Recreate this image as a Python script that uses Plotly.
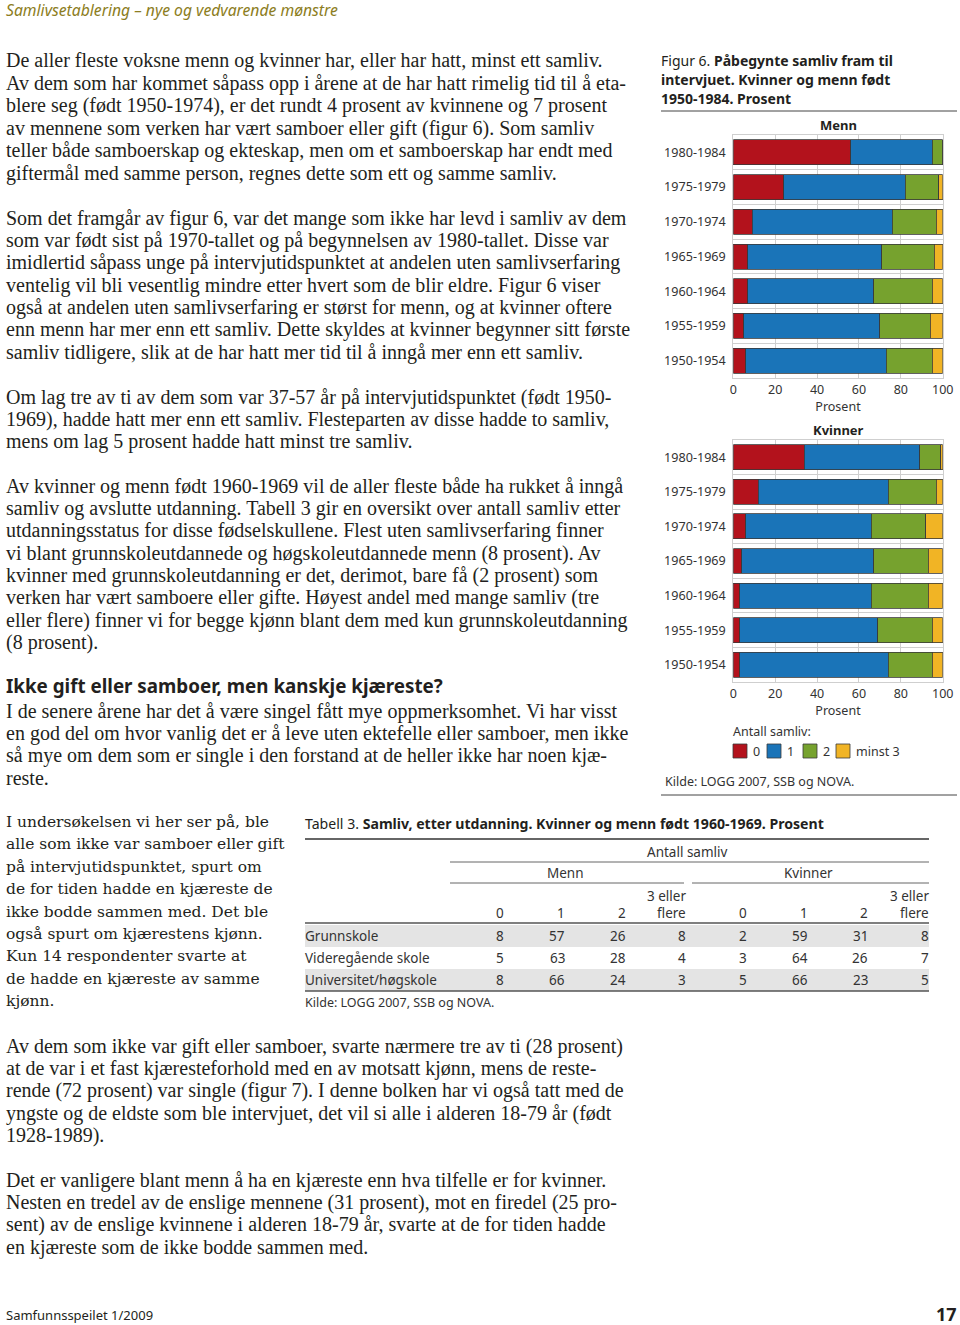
import plotly.graph_objects as go

W, H = 960, 1325
def X(px): return px / W
def Y(py): return 1 - py / H

# ---------------- data ----------------
cohorts = ["1980-1984", "1975-1979", "1970-1974", "1965-1969", "1960-1964", "1955-1959", "1950-1954"]
series_names = ["0", "1", "2", "minst 3"]
menn_0 = [56, 24, 9, 7, 7, 5, 6]
menn_1 = [39, 58, 67, 64, 60, 65, 67]
menn_2 = [5, 16, 21, 25, 28, 24, 22]
menn_3 = [0, 2, 3, 4, 5, 6, 5]
kvinner_0 = [34, 12, 6, 4, 3, 3, 3]
kvinner_1 = [55, 62, 60, 63, 63, 66, 71]
kvinner_2 = [10, 23, 26, 26, 27, 26, 21]
kvinner_3 = [1, 3, 8, 7, 7, 5, 5]
x_ticks = [0, 20, 40, 60, 80, 100]

table_rows = ["Grunnskole", "Videregående skole", "Universitet/høgskole"]
table_cols = ["0", "1", "2", "3 eller<br>flere"]
menn_tab = [[8, 57, 26, 8], [5, 63, 28, 4], [8, 66, 24, 3]]
kvinner_tab = [[2, 59, 31, 8], [3, 64, 26, 7], [5, 66, 23, 5]]

colors = ["#B3121C", "#1A74B8", "#76A22E", "#F1B425"]

SERIF = "Liberation Serif, Times New Roman, serif"
SIDE = "DejaVu Serif, serif"
SANS = "Noto Sans, Open Sans, sans-serif"
INK = "#231f20"

fig = go.Figure()
for vals, name, col in zip([menn_0, menn_1, menn_2, menn_3], series_names, colors):
    fig.add_trace(go.Bar(y=cohorts, x=vals, name=name, orientation="h",
                         marker=dict(color=col, line=dict(color="#3a3a3a", width=0.8)),
                         xaxis="x", yaxis="y", showlegend=False, hoverinfo="skip"))
for vals, name, col in zip([kvinner_0, kvinner_1, kvinner_2, kvinner_3], series_names, colors):
    fig.add_trace(go.Bar(y=cohorts, x=vals, name=name, orientation="h",
                         marker=dict(color=col, line=dict(color="#3a3a3a", width=0.8)),
                         xaxis="x2", yaxis="y2", showlegend=False, hoverinfo="skip"))

xcommon = dict(range=[0, 100], tickvals=x_ticks, showgrid=True, gridcolor="#cfcfcf", gridwidth=1,
               zeroline=False, showline=True, linecolor="#cfcfcf", mirror=True, ticks="",
               tickfont=dict(family=SANS, size=12.5, color="#333"), automargin=False,
               title=dict(text="Prosent", font=dict(family=SANS, size=12.5, color="#333"), standoff=2),
               fixedrange=True)
ycommon = dict(type="category", categoryarray=cohorts, autorange="reversed", showgrid=True,
               tickson="boundaries", gridcolor="#cfcfcf", ticks="", showline=True, linecolor="#cfcfcf",
               mirror=True, tickfont=dict(family=SANS, size=12.6, color="#333"), ticklabelstandoff=4,
               automargin=False, fixedrange=True)

fig.update_layout(
    width=W, height=H, autosize=False, margin=dict(l=0, r=0, t=0, b=0, pad=0, autoexpand=False),
    paper_bgcolor="white", plot_bgcolor="white", barmode="stack", bargap=0.28,
    showlegend=False, hovermode=False,
    xaxis=dict(domain=[X(733.3), X(942.7)], anchor="y", **xcommon),
    yaxis=dict(domain=[Y(378), Y(135)], anchor="x", **ycommon),
    xaxis2=dict(domain=[X(733.3), X(942.7)], anchor="y2", **xcommon),
    yaxis2=dict(domain=[Y(682), Y(440)], anchor="x2", **ycommon),
)

ann = []
def txt(x, y, t, size=20, family=SERIF, color=INK, anchor="left"):
    ann.append(dict(x=X(x), y=Y(y), xref="paper", yref="paper", text=t, showarrow=False,
                    xanchor=anchor, yanchor="middle", font=dict(family=family, size=size, color=color)))

def para(lines, y0, x=4, step=22.4, size=20, family=SERIF):
    for i, l in enumerate(lines):
        txt(x, y0 + i * step, l, size=size, family=family)

# header / footer
txt(4, 10, "<i>Samlivsetablering – nye og vedvarende mønstre</i>", size=15.7, family=SANS, color="#8c7d22")
txt(4, 1315, "Samfunnsspeilet 1/2009", size=13, family=SANS)
txt(959, 1314, "<b>17</b>", size=18, family=SANS, anchor="right")

para(["De aller fleste voksne menn og kvinner har, eller har hatt, minst ett samliv.",
      "Av dem som har kommet såpass opp i årene at de har hatt rimelig tid til å eta-",
      "blere seg (født 1950-1974), er det rundt 4 prosent av kvinnene og 7 prosent",
      "av mennene som verken har vært samboer eller gift (figur 6). Som samliv",
      "teller både samboerskap og ekteskap, men om et samboerskap har endt med",
      "giftermål med samme person, regnes dette som ett og samme samliv."], 61)
para(["Som det framgår av figur 6, var det mange som ikke har levd i samliv av dem",
      "som var født sist på 1970-tallet og på begynnelsen av 1980-tallet. Disse var",
      "imidlertid såpass unge på intervjutidspunktet at andelen uten samlivserfaring",
      "ventelig vil bli vesentlig mindre etter hvert som de blir eldre. Figur 6 viser",
      "også at andelen uten samlivserfaring er størst for menn, og at kvinner oftere",
      "enn menn har mer enn ett samliv. Dette skyldes at kvinner begynner sitt første",
      "samliv tidligere, slik at de har hatt mer tid til å inngå mer enn ett samliv."], 218)
para(["Om lag tre av ti av dem som var 37-57 år på intervjutidspunktet (født 1950-",
      "1969), hadde hatt mer enn ett samliv. Flesteparten av disse hadde to samliv,",
      "mens om lag 5 prosent hadde hatt minst tre samliv."], 397)
para(["Av kvinner og menn født 1960-1969 vil de aller fleste både ha rukket å inngå",
      "samliv og avslutte utdanning. Tabell 3 gir en oversikt over antall samliv etter",
      "utdanningsstatus for disse fødselskullene. Flest uten samlivserfaring finner",
      "vi blant grunnskoleutdannede og høgskoleutdannede menn (8 prosent). Av",
      "kvinner med grunnskoleutdanning er det, derimot, bare få (2 prosent) som",
      "verken har vært samboere eller gifte. Høyest andel med mange samliv (tre",
      "eller flere) finner vi for begge kjønn blant dem med kun grunnskoleutdanning",
      "(8 prosent)."], 486)
txt(4, 686, "<b>Ikke gift eller samboer, men kanskje kjæreste?</b>", size=18.8, family=SANS)
para(["I de senere årene har det å være singel fått mye oppmerksomhet. Vi har visst",
      "en god del om hvor vanlig det er å leve uten ektefelle eller samboer, men ikke",
      "så mye om dem som er single i den forstand at de heller ikke har noen kjæ-",
      "reste."], 711)
para(["I undersøkelsen vi her ser på, ble",
      "alle som ikke var samboer eller gift",
      "på intervjutidspunktet, spurt om",
      "de for tiden hadde en kjæreste de",
      "ikke bodde sammen med. Det ble",
      "også spurt om kjærestens kjønn.",
      "Kun 14 respondenter svarte at",
      "de hadde en kjæreste av samme",
      "kjønn."], 822, size=15.5, family=SIDE)
para(["Av dem som ikke var gift eller samboer, svarte nærmere tre av ti (28 prosent)",
      "at de var i et fast kjæresteforhold med en av motsatt kjønn, mens de reste-",
      "rende (72 prosent) var single (figur 7). I denne bolken har vi også tatt med de",
      "yngste og de eldste som ble intervjuet, det vil si alle i alderen 18-79 år (født",
      "1928-1989)."], 1046)
para(["Det er vanligere blant menn å ha en kjæreste enn hva tilfelle er for kvinner.",
      "Nesten en tredel av de enslige mennene (31 prosent), mot en firedel (25 pro-",
      "sent) av de enslige kvinnene i alderen 18-79 år, svarte at de for tiden hadde",
      "en kjæreste som de ikke bodde sammen med."], 1180)

# figure caption & chart texts
txt(659, 61, "Figur 6. <b>Påbegynte samliv fram til</b>", size=14, family=SANS)
txt(659, 79, "<b>intervjuet. Kvinner og menn født</b>", size=14, family=SANS)
txt(659, 98, "<b>1950-1984. Prosent</b>", size=14, family=SANS)
txt(838, 125, "<b>Menn</b>", size=13, family=SANS, anchor="center")
txt(838, 430, "<b>Kvinner</b>", size=13, family=SANS, anchor="center")
txt(731, 731, "Antall samliv:", size=12.5, family=SANS, color="#333")
txt(663, 781, "Kilde: LOGG 2007, SSB og NOVA.", size=12.5, family=SANS, color="#333")

shapes = [
    dict(type="line", xref="paper", yref="paper", x0=X(661), x1=X(957), y0=Y(111), y1=Y(111),
         line=dict(color="#444", width=1)),
    dict(type="line", xref="paper", yref="paper", x0=X(661), x1=X(957), y0=Y(795), y1=Y(795),
         line=dict(color="#444", width=1)),
]
# manual legend
leg_x = [733, 767, 803, 836]
for lx, name, col in zip(leg_x, series_names, colors):
    shapes.append(dict(type="rect", xref="paper", yref="paper", x0=X(lx), x1=X(lx + 14),
                       y0=Y(758), y1=Y(744), fillcolor=col, line=dict(color="#3a3a3a", width=0.8)))
    txt(lx + 18, 751, name, size=12.5, family=SANS, color="#333")

# ---------------- table ----------------
tx0, tx1 = 305, 929
txt(303, 823, "Tabell 3. <b>Samliv, etter utdanning. Kvinner og menn født 1960-1969. Prosent</b>",
    size=14.1, family=SANS)
shapes.append(dict(type="line", xref="paper", yref="paper", x0=X(tx0), x1=X(tx1), y0=Y(839), y1=Y(839),
                   line=dict(color="#666", width=2)))
txt(687, 852, "Antall samliv", size=13.5, family=SANS, color="#333", anchor="center")
shapes.append(dict(type="line", xref="paper", yref="paper", x0=X(450), x1=X(tx1), y0=Y(862), y1=Y(862),
                   line=dict(color="#666", width=1)))
txt(565, 873, "Menn", size=13.5, family=SANS, color="#333", anchor="center")
txt(808, 873, "Kvinner", size=13.5, family=SANS, color="#333", anchor="center")
shapes.append(dict(type="line", xref="paper", yref="paper", x0=X(450), x1=X(684), y0=Y(883), y1=Y(883),
                   line=dict(color="#666", width=1)))
shapes.append(dict(type="line", xref="paper", yref="paper", x0=X(692), x1=X(tx1), y0=Y(883), y1=Y(883),
                   line=dict(color="#666", width=1)))
col_x = [504, 565, 626, 686, 747, 808, 868, 929]
for i, cx in enumerate(col_x):
    label = table_cols[i % 4]
    if "<br>" in label:
        a, b = label.split("<br>")
        txt(cx + 2, 896, a, size=13.5, family=SANS, color="#333", anchor="right")
        txt(cx + 2, 913, b, size=13.5, family=SANS, color="#333", anchor="right")
    else:
        txt(cx + 2, 913, label, size=13.5, family=SANS, color="#333", anchor="right")
shapes.append(dict(type="line", xref="paper", yref="paper", x0=X(tx0), x1=X(tx1), y0=Y(923), y1=Y(923),
                   line=dict(color="#555", width=1.5)))
row_y = [936, 958, 980]
for r, (rname, mv, kv) in enumerate(zip(table_rows, menn_tab, kvinner_tab)):
    ry = row_y[r]
    if r % 2 == 0:
        shapes.append(dict(type="rect", xref="paper", yref="paper", x0=X(tx0), x1=X(tx1),
                           y0=Y(ry + 11), y1=Y(ry - 11), fillcolor="#e4e4e4", line=dict(width=0),
                           layer="below"))
    txt(303, ry, rname, size=13.5, family=SANS, color="#333")
    for cx, v in zip(col_x, list(mv) + list(kv)):
        txt(cx + 2, ry, str(v), size=13.5, family=SANS, color="#333", anchor="right")
shapes.append(dict(type="line", xref="paper", yref="paper", x0=X(tx0), x1=X(tx1), y0=Y(991), y1=Y(991),
                   line=dict(color="#555", width=1.5)))
txt(303, 1002, "Kilde: LOGG 2007, SSB og NOVA.", size=12.5, family=SANS, color="#333")

fig.update_layout(annotations=ann, shapes=shapes)
fig.write_html("out.html", config={"displayModeBar": False, "responsive": False},
               post_script="document.body.style.margin='0';document.body.style.overflow='hidden';")
